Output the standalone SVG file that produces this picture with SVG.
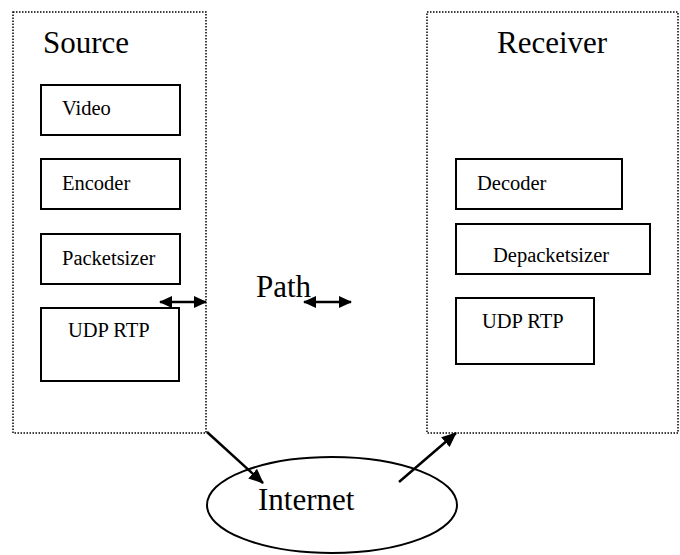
<svg xmlns="http://www.w3.org/2000/svg" width="680" height="555" viewBox="0 0 680 555">
<style>
.frame{fill:none;stroke:#000;stroke-width:1.5;stroke-dasharray:1.5 1.5}
.box{fill:#fff;stroke:#000;stroke-width:2}
.t{font-family:'Liberation Serif','DejaVu Serif',serif;font-size:20.5px;fill:#000}
.big{font-family:'Liberation Serif','DejaVu Serif',serif;font-size:31px;fill:#000}
.conn{fill:none;stroke:#000;stroke-width:2.5}
</style>
<defs>
<marker id="ah" markerWidth="13" markerHeight="12" refX="12" refY="6" orient="auto-start-reverse" markerUnits="userSpaceOnUse" viewBox="0 0 13 12">
<path d="M0,0 L13,6 L0,12 z" fill="#000"/>
</marker>
<marker id="ah2" markerWidth="15" markerHeight="13" refX="14" refY="6.5" orient="auto" markerUnits="userSpaceOnUse" viewBox="0 0 15 13">
<path d="M0,0 L15,6.5 L0,13 z" fill="#000"/>
</marker>
</defs>
<g id="source">
<rect class="frame" x="13" y="12" width="193" height="421"/>
<text class="big" x="43" y="53" font-family="Liberation Serif, DejaVu Serif, serif">Source</text>
</g>
<g id="video"><rect class="box" x="41" y="85" width="139" height="50"/><text class="t" x="62" y="115">Video</text></g>
<g id="encoder"><rect class="box" x="41" y="159" width="139" height="50"/><text class="t" x="62" y="190">Encoder</text></g>
<g id="packetsizer"><rect class="box" x="41" y="234" width="139" height="50"/><text class="t" x="62" y="265">Packetsizer</text></g>
<g id="udp-src"><rect class="box" x="41" y="308" width="138" height="73"/><text class="t" x="68" y="337">UDP RTP</text></g>
<g id="receiver">
<rect class="frame" x="427" y="12" width="251" height="421"/>
<text class="big" x="497" y="53">Receiver</text>
</g>
<g id="decoder"><rect class="box" x="456" y="159" width="166" height="50"/><text class="t" x="477" y="190">Decoder</text></g>
<g id="depacketsizer"><rect class="box" x="456" y="224" width="194" height="50"/><text class="t" x="493" y="262">Depacketsizer</text></g>
<g id="udp-rcv"><rect class="box" x="456" y="298" width="138" height="66"/><text class="t" x="482" y="328">UDP RTP</text></g>
<g id="path"><text class="big" x="256" y="297">Path</text></g>
<g id="internet">
<ellipse cx="332" cy="505" rx="125" ry="48" fill="none" stroke="#000" stroke-width="2"/>
<text class="big" x="258" y="510">Internet</text>
</g>
<g id="connectors">
<line class="conn" x1="160" y1="302" x2="206" y2="302" marker-start="url(#ah)" marker-end="url(#ah)"/>
<line class="conn" x1="304" y1="302" x2="351" y2="302" marker-start="url(#ah)" marker-end="url(#ah)"/>
<line class="conn" x1="207" y1="432" x2="263" y2="483" marker-end="url(#ah2)"/>
<line class="conn" x1="399" y1="482" x2="456" y2="433" marker-end="url(#ah2)"/>
</g>
</svg>
